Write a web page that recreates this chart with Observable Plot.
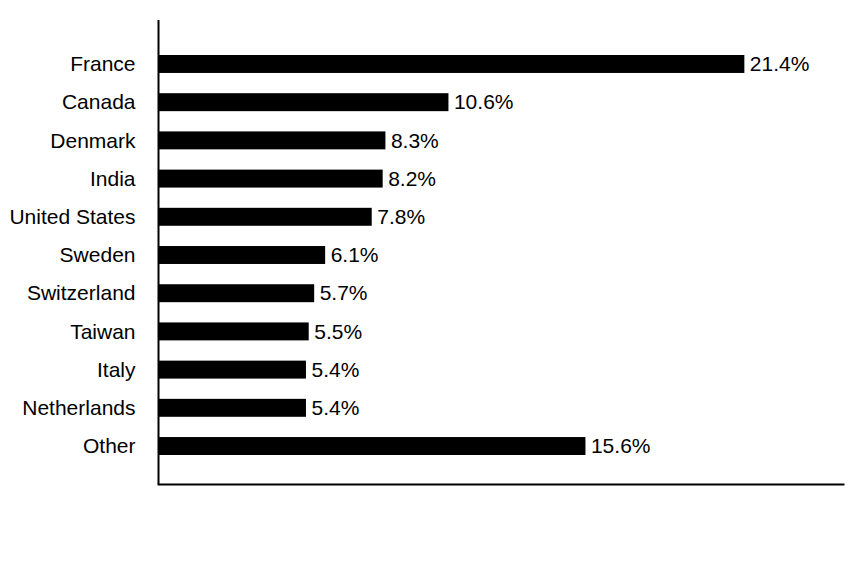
<!DOCTYPE html>
<html><head><meta charset="utf-8">
<script src="https://cdn.jsdelivr.net/npm/d3@7"></script>
<script src="https://cdn.jsdelivr.net/npm/@observablehq/plot@0.6"></script>
<style>body{margin:0;background:#fff}</style>
</head><body><div id="chart"></div>
<script>
const countries = ["France","Canada","Denmark","India","United States","Sweden","Switzerland","Taiwan","Italy","Netherlands","Other"];
const shares = [21.4,10.6,8.3,8.2,7.8,6.1,5.7,5.5,5.4,5.4,15.6];
const data = countries.map((c,i)=>({country:c, value:shares[i]}));
const chart = Plot.plot({
  width: 864, height: 564,
  marginLeft: 158, marginRight: 21, marginTop: 20, marginBottom: 80,
  style: {fontFamily: "Liberation Sans, Arial, sans-serif", fontSize: "21px", color: "#000", background: "#fff"},
  x: {domain: [0, 25], axis: null},
  y: {domain: countries, range: [55, 455], paddingInner: 0.53, paddingOuter: 0, round: false, label: null},
  marks: [
    Plot.barX(data, {x: "value", y: "country", fill: "#000"}),
    Plot.text(data, {x: "value", y: "country", text: d => d.value.toFixed(1) + "%", textAnchor: "start", dx: 5, fontSize: 21, fill: "#000"}),
    Plot.axisY({tickSize: 0, tickPadding: 23, fontSize: 21}),
    Plot.ruleX([0], {stroke: "#000", strokeWidth: 2}),
    Plot.frame({anchor: "bottom", stroke: "#000", strokeWidth: 2})
  ]
});
document.getElementById("chart").appendChild(chart);
</script></body></html>
